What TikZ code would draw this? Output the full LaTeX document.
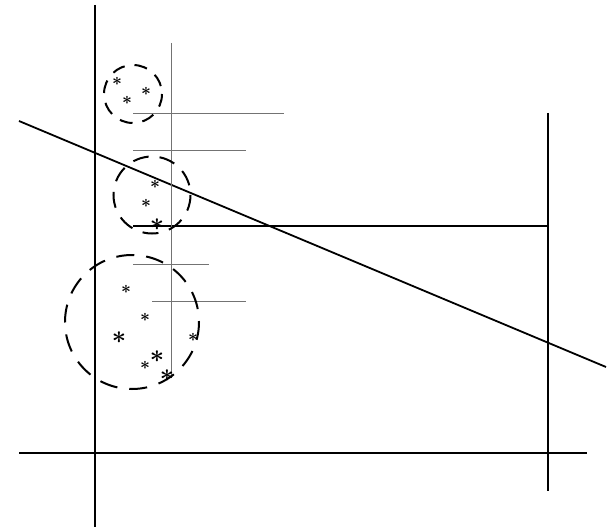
\documentclass[tikz,border=0pt]{standalone}
\begin{document}
\begin{tikzpicture}[x=1pt,y=-1pt,
  thickline/.style={line width=1.8pt,black},
  grayline/.style={line width=0.9pt,black!55},
  midline/.style={line width=1.3pt,black},
  dcircle/.style={line width=2pt,black},
  sstar/.style={inner sep=0pt,font=\boldmath\fontsize{19}{19}\selectfont},
  bstar/.style={inner sep=0pt,font=\boldmath\fontsize{30}{30}\selectfont}]
\useasboundingbox (0,0) rectangle (608,532);
% axes and frame lines
\draw[thickline] (95,5) -- (95,527);
\draw[thickline] (19,453) -- (587,453);
\draw[thickline] (548,113) -- (548,491);
\draw[thickline] (19,121) -- (606,367);
\draw[midline] (133,226) -- (548,226);
% gray lines
\draw[grayline] (171,43) -- (171,375);
\draw[grayline] (133,113) -- (284,113);
\draw[grayline] (133,150) -- (246,150);
\draw[grayline] (133,264) -- (209,264);
\draw[grayline] (152,301) -- (246,301);
% dashed circles
\draw[dcircle,dash pattern=on 13pt off 10pt] (133,94) circle (29);
\draw[dcircle,dash pattern=on 16pt off 11pt] (152,195) circle (38.5);
\draw[dcircle,dash pattern=on 18pt off 12pt] (132,322) circle (67);
% stars
\node[sstar] (s1) at (117,81) {$\ast$};
\node[sstar] (s2) at (127,100) {$\ast$};
\node[sstar] (s3) at (146,91) {$\ast$};
\node[sstar] (s4) at (155,184) {$\ast$};
\node[sstar] (s5) at (146,203) {$\ast$};
\node[bstar] (s6) at (157,225) {$\ast$};
\node[sstar] (s7) at (126,289) {$\ast$};
\node[sstar] (s8) at (145,317) {$\ast$};
\node[bstar] (s9) at (119,338) {$\ast$};
\node[sstar] (s10) at (193,337) {$\ast$};
\node[sstar] (s11) at (145,365) {$\ast$};
\node[bstar] (s12) at (157,357) {$\ast$};
\node[bstar] (s13) at (167,376) {$\ast$};
\end{tikzpicture}
\end{document}
